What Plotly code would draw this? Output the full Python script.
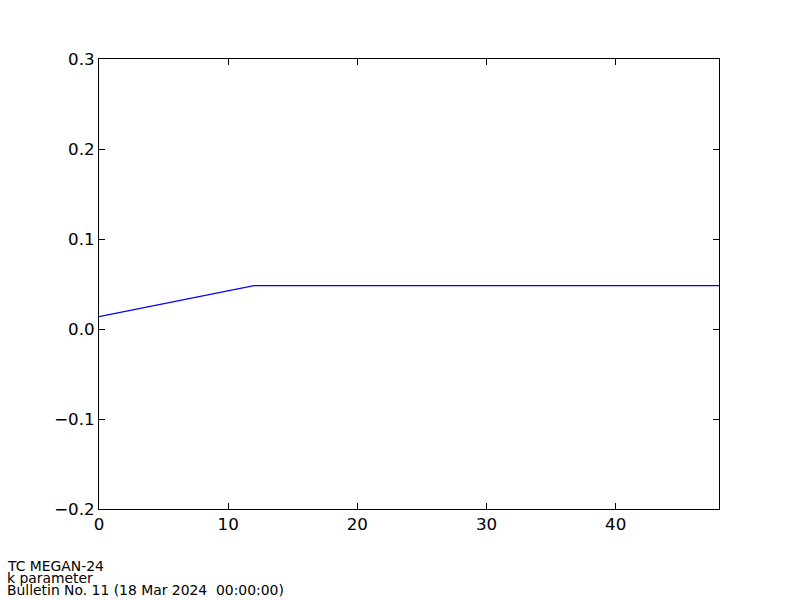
import plotly.graph_objects as go

hours = [0, 12, 48]
k_values = [0.0137, 0.0481, 0.0481]

x_ticks = [0, 10, 20, 30, 40]
y_ticks = [-0.2, -0.1, 0.0, 0.1, 0.2, 0.3]
y_tick_labels = ["\u22120.2", "\u22120.1", "0.0", "0.1", "0.2", "0.3"]

footer_lines = ["TC MEGAN-24", "k parameter", "Bulletin No. 11 (18 Mar 2024  00:00:00)"]
footer_px = [566, 578, 590]

fig = go.Figure()
fig.add_trace(go.Scatter(x=hours, y=k_values, mode="lines",
                         line=dict(color="#0000ff", width=1.2), showlegend=False))

axis_common = dict(showgrid=False, zeroline=False, showline=True, linecolor="black",
                   linewidth=1, mirror="ticks", ticks="inside", ticklen=6,
                   tickcolor="black", tickwidth=1,
                   tickfont=dict(family="DejaVu Sans", size=16.7, color="black"))

fig.update_xaxes(range=[0, 48], tickvals=x_ticks, **axis_common)
fig.update_yaxes(range=[-0.2, 0.3], tickvals=y_ticks, ticktext=y_tick_labels, **axis_common)

plot_h = 450
for text, py in zip(footer_lines, footer_px):
    fig.add_annotation(text=text, xref="paper", yref="paper",
                       x=(6 - 99) / 620, y=(509 - py) / plot_h,
                       xanchor="left", yanchor="middle", showarrow=False,
                       borderpad=0,
                       font=dict(family="DejaVu Sans", size=13.9, color="black"))

fig.update_layout(width=800, height=600,
                  margin=dict(l=99, r=81, t=59, b=91),
                  paper_bgcolor="white", plot_bgcolor="white")

fig.write_html("out.html",
               config={"displayModeBar": False},
               post_script="document.body.style.margin='0';document.body.style.overflow='hidden';")
